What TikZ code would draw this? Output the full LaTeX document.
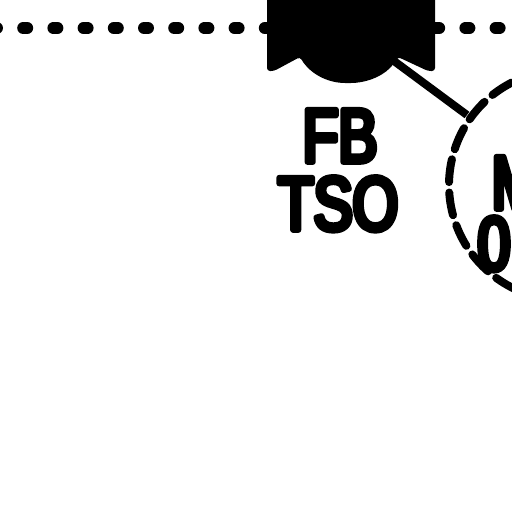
\documentclass[tikz,border=0pt]{standalone}
\usepackage{fontspec}
\newfontfamily\lblfont[FakeStretch=0.77,FakeBold=7.5]{Liberation Sans}
\tikzset{
  dotline/.style={line width=12pt,line cap=round,dash pattern=on 4pt off 26.2pt},
  ringline/.style={line width=8pt,line cap=round,dash pattern=on 23pt off 10.5pt},
  link/.style={line width=8pt},
  lbl/.style={font=\lblfont\fontsize{76}{76}\selectfont,inner sep=0pt,anchor=base,text=black}
}
\begin{document}
\begin{tikzpicture}[x=1pt,y=-1pt,line join=round]
\useasboundingbox (0,0) rectangle (512,512);
\clip (0,0) rectangle (512,512);
\fill[white] (0,0) rectangle (512,512);
% dotted rail
\coordinate (railL) at (-7,28);
\coordinate (railM) at (300,28);
\coordinate (railN) at (405,28);
\coordinate (railR) at (530,28);
\draw[dotline] (railL) -- (railM);
\draw[dotline] (railN) -- (railR);
% black body
\fill[rounded corners=3pt] (267,-5) -- (435,-5) -- (435,71) -- (428,71) -- (398,57) -- (392,66)
  .. controls (380,78) and (364,83) .. (348,83)
  .. controls (328,83) and (310,74) .. (300,57) -- (274,71) -- (267,71) -- cycle;
% connector
\coordinate (linkA) at (394,61);
\coordinate (linkB) at (467,115);
\draw[link] (linkA) -- (linkB);
% dashed ring
\draw[ringline] plot[domain=243:112,samples=70,smooth] ({564+115*cos(\x)},{185+115*sin(\x)});
% labels
\node[lbl] (fb) at (340,162) {FB};
\node[lbl] (tso) at (338,230) {TSO};
\node[lbl] (m) at (516,209) {M};
\node[lbl] (zero) at (494,270) {0};
\end{tikzpicture}
\end{document}
